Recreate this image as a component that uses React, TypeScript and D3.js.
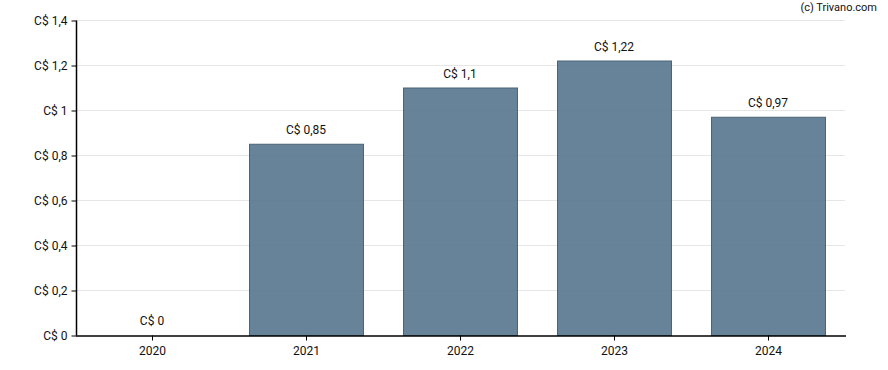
import React, {useEffect, useRef} from 'react';
import * as d3 from 'd3';

// chart data
const years = ['2020', '2021', '2022', '2023', '2024'];
const dividends = [0, 0.85, 1.1, 1.22, 0.97];
const yTicks = [0, 0.2, 0.4, 0.6, 0.8, 1, 1.2, 1.4];

const width = 888;
const height = 370;
const margin = {top: 20, right: 42, bottom: 35, left: 76};

const fmt = (v: number) => 'C$ ' + String(v).replace('.', ',');

const App = () => {
    const svgRef = useRef<SVGSVGElement>(null);

    useEffect(() => {
        const svg = d3.select(svgRef.current);
        svg.selectAll('*').remove();

        const x = d3.scaleBand()
            .domain(years)
            .range([margin.left, width - margin.right])
            .paddingInner(0.26)
            .paddingOuter(0.13);

        const y = d3.scaleLinear()
            .domain([0, 1.4])
            .range([height - margin.bottom, margin.top]);

        // gridlines
        svg.append('g')
            .selectAll('line')
            .data(yTicks.filter(t => t > 0))
            .enter().append('line')
            .attr('x1', margin.left)
            .attr('x2', width - margin.right - 1)
            .attr('y1', d => y(d) + 0.5)
            .attr('y2', d => y(d) + 0.5)
            .attr('stroke', '#e6e6e6');

        const rows = dividends.map((v, i) => ({year: years[i], value: v}));

        // bars (slightly see-through, gridlines show faintly)
        svg.append('g')
            .selectAll('rect')
            .data(rows)
            .enter().append('rect')
            .attr('x', d => x(d.year)! - 0.5)
            .attr('y', d => y(d.value) + 0.5)
            .attr('width', x.bandwidth())
            .attr('height', d => y(0) - y(d.value))
            .attr('fill', '#56768f')
            .attr('fill-opacity', 0.9)
            .attr('stroke', '#4a6376')
            .attr('stroke-width', 1);

        // value labels
        svg.append('g')
            .selectAll('text')
            .data(rows)
            .enter().append('text')
            .attr('x', d => x(d.year)! + x.bandwidth() / 2 - 1)
            .attr('y', d => y(d.value) - 10)
            .attr('text-anchor', 'middle')
            .style('font-family', 'Roboto, sans-serif')
            .style('font-size', '12px')
            .attr('fill', '#111')
            .text(d => fmt(d.value));

        // y axis
        const yAxis = svg.append('g')
            .attr('transform', `translate(${margin.left + 0.5},0.5)`)
            .call(d3.axisLeft(y).tickValues(yTicks).tickSize(5).tickPadding(4).tickFormat(d => fmt(d as number)));
        yAxis.select('.domain').attr('stroke', '#000').attr('d', `M0,${margin.top}V${height - margin.bottom}`);

        // x axis
        const xAxis = svg.append('g')
            .attr('transform', `translate(-0.5,${height - margin.bottom + 0.5})`)
            .call(d3.axisBottom(x).tickSize(5).tickPadding(6).tickSizeOuter(0));

        [yAxis, xAxis].forEach(a => {
            a.selectAll('text')
                .style('font-family', 'Roboto, sans-serif')
                .style('font-size', '12px')
                .attr('fill', '#111');
            a.selectAll('line').attr('stroke', '#000');
        });
        xAxis.select('.domain').attr('stroke', '#000').attr('stroke-width', 1.5);
        yAxis.select('.domain').attr('stroke-width', 1.5);

        // copyright
        svg.append('text')
            .attr('x', width - 11)
            .attr('y', 11)
            .attr('text-anchor', 'end')
            .style('font-family', 'Roboto, sans-serif')
            .style('font-size', '11px')
            .attr('fill', '#111')
            .text('(c) Trivano.com');
    }, []);

    return <svg ref={svgRef} width={width} height={height}
                style={{position: 'absolute', left: 0, top: 0, background: '#fff'}}/>;
};

export default App;
